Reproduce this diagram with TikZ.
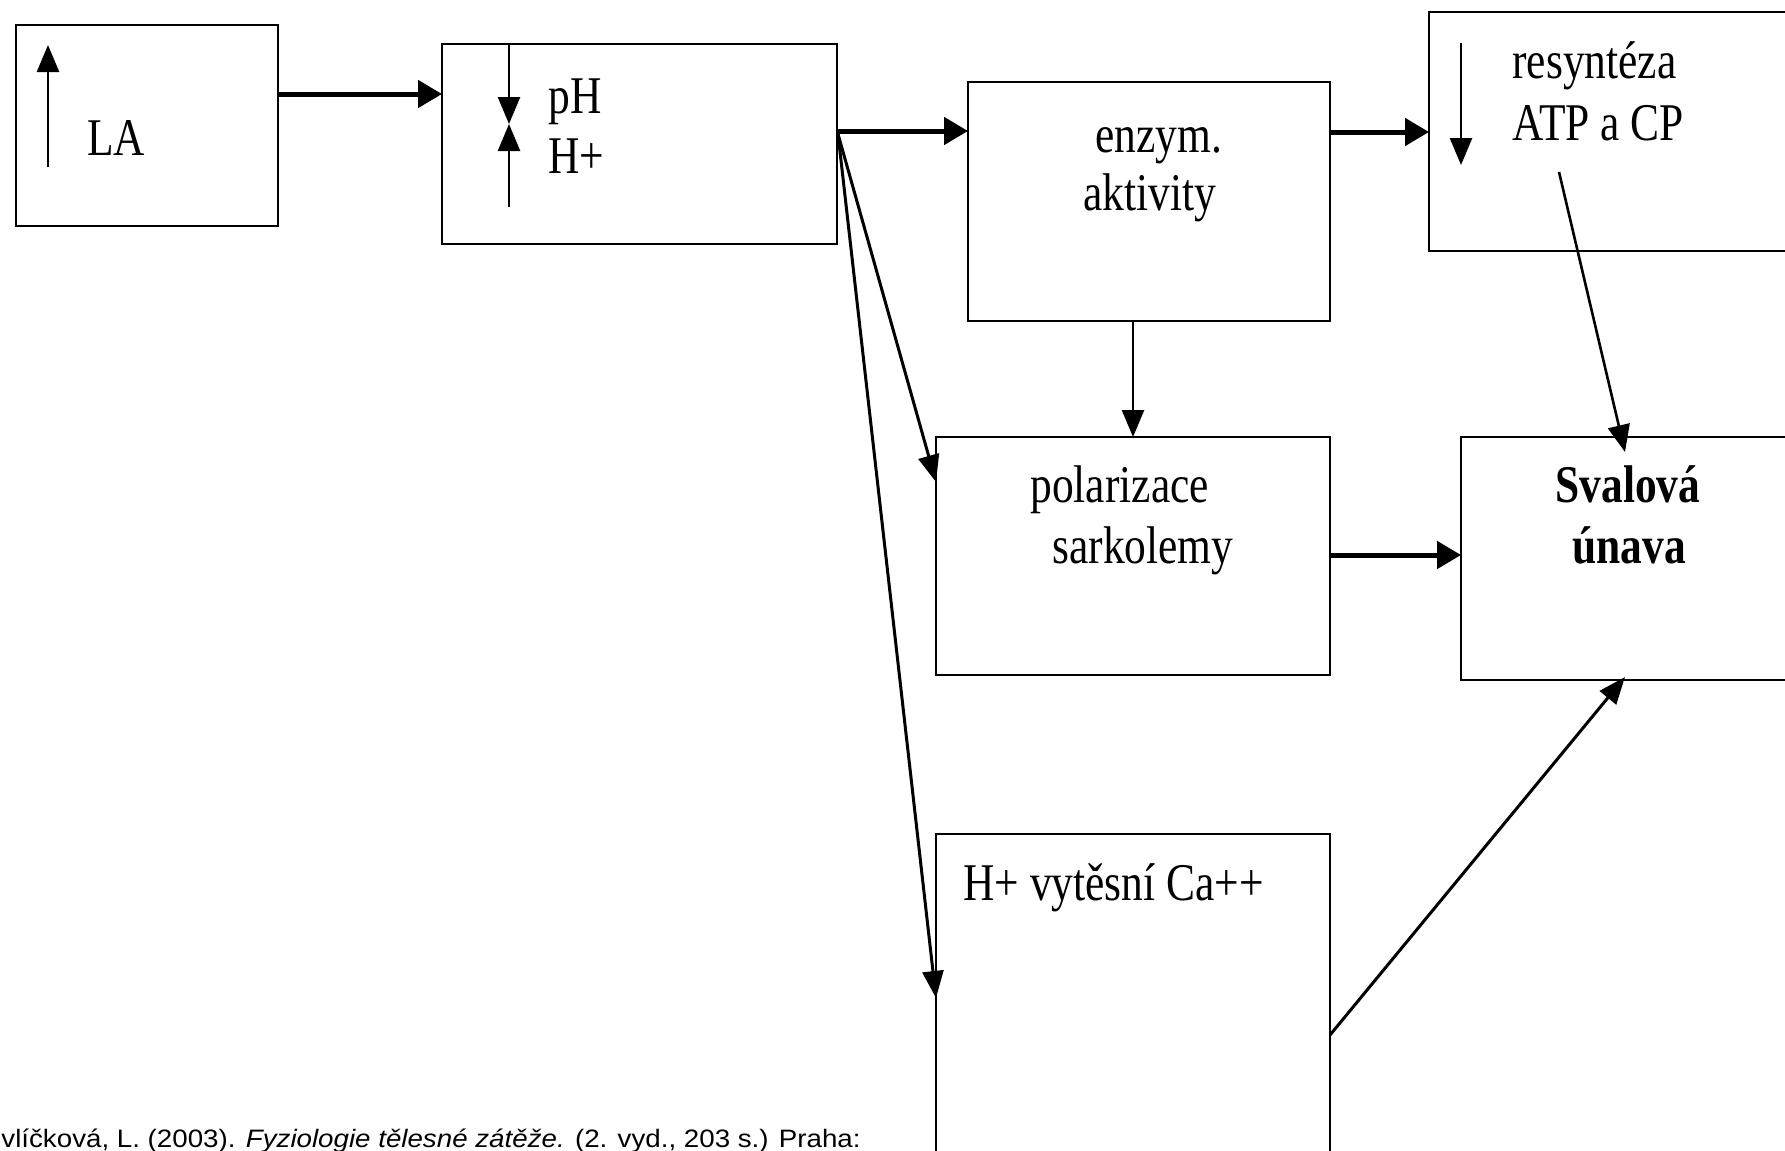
\documentclass[tikz,border=0pt]{standalone}
\usepackage{fontspec}
\setmainfont{Liberation Serif}[FakeStretch=0.82]
\newfontfamily\citefont{Liberation Sans}[FakeStretch=1.1]
\usetikzlibrary{arrows.meta}
\tikzset{
  box/.style={draw, line width=1pt, anchor=north west, inner sep=0pt, outer sep=0pt},
  lbl/.style={anchor=base west, inner sep=0pt, font=\fontsize{26.5}{30}\selectfont},
  thickarr/.style={line width=2.5pt, -{Triangle[length=12pt,width=13.5pt]}},
  thinarr/.style={line width=1.3pt, -{Triangle[length=13.5pt,width=11pt]}},
  fanarr/.style={line width=1.5pt, -{Triangle[length=13.5pt,width=10.5pt]}},
  plainline/.style={line width=1.5pt}
}
\begin{document}
\begin{tikzpicture}[x=0.5pt,y=-0.5pt]
\useasboundingbox (0,0) rectangle (1785,1151);
\clip (0,0) rectangle (1785,1151);
\fill[white] (0,0) rectangle (1785,1151);
% boxes
\node[box, minimum width=131pt, minimum height=100.5pt] (la) at (16,25) {};
\node[box, minimum width=197.5pt, minimum height=100pt] (ph) at (442,44) {};
\node[box, minimum width=181pt, minimum height=119.5pt] (enz) at (968,82) {};
\node[box, minimum width=185.5pt, minimum height=119.5pt] (res) at (1429,12) {};
\node[box, minimum width=197pt, minimum height=119pt] (pol) at (936,437) {};
\node[box, minimum width=169.5pt, minimum height=121.5pt] (sval) at (1461,437) {};
\node[box, minimum width=197pt, minimum height=168pt] (hca) at (936,834) {};
% texts
\node[lbl] (tLA) at (87,155) {LA};
\node[lbl] (tpH) at (548,113) {pH};
\node[lbl] (tH) at (548,173) {H+};
\node[lbl] (tenz) at (1095,152) {enzym.};
\node[lbl] (takt) at (1083,210) {aktivity};
\node[lbl] (tres) at (1512,78) {resyntéza};
\node[lbl] (tatp) at (1512,140) {ATP a CP};
\node[lbl] (tpol) at (1030,502) {polarizace};
\node[lbl] (tsar) at (1052,563) {sarkolemy};
\node[lbl, font=\fontsize{26.5}{30}\selectfont\bfseries] (tsval) at (1555,502) {Svalová};
\node[lbl, font=\fontsize{26.5}{30}\selectfont\bfseries] (tuna) at (1572,563) {únava};
\node[lbl] (thca) at (963,900) {H+ vytěsní Ca++};
\node[anchor=base west, inner sep=0pt, font=\citefont\fontsize{12.6}{15}\selectfont] (cite) at (1,1147) {vlíčková, L. (2003). \textit{Fyziologie tělesné zátěže.} (2. vyd., 203 s.) Praha:};
% inner arrows
\coordinate (laup0) at (48,167);
\coordinate (laup1) at (48,45);
\draw[thinarr] (laup0) -- (laup1);
\coordinate (phmid) at (509,124);
\draw[thinarr] (ph.north -| phmid) -- (phmid);
\coordinate (phlow) at (509,207);
\draw[thinarr] (phlow) -- (phmid);
\coordinate (res0) at (1461,43);
\coordinate (res1) at (1461,165);
\draw[thinarr] (res0) -- (res1);
% connectors
\draw[thickarr] (la.east |- 0,94) -- (ph.west |- 0,94);
\draw[thickarr] (ph.east |- 0,131) -- (enz.west |- 0,131);
\draw[thickarr] (enz.east |- 0,132) -- (res.west |- 0,132);
\draw[thickarr] (pol.east |- 0,555) -- (sval.west |- 0,555);
\draw[thinarr] (enz.south -| 1133,0) -- (pol.north -| 1133,0);
\coordinate (fan) at (838,134);
\coordinate (poltip) at (936,482);
\coordinate (hcatip) at (936,998);
\draw[fanarr] (fan) -- (poltip);
\draw[fanarr] (fan) -- (hcatip);
\coordinate (res2) at (1559,172);
\coordinate (svaltop) at (1625,452);
\draw[thinarr] (res2) -- (svaltop);
\coordinate (hca2) at (1330,1035);
\coordinate (svalbot) at (1625,677);
\draw[fanarr] (hca2) -- (svalbot);
\end{tikzpicture}
\end{document}
